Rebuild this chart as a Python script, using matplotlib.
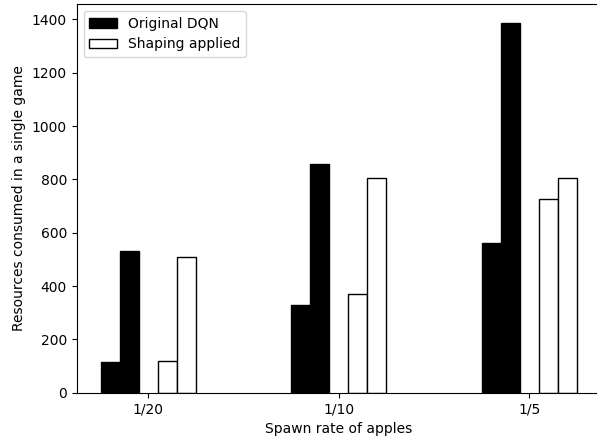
import numpy as np
import matplotlib
matplotlib.use('Agg')
import matplotlib.pyplot as plt

rates = ['1/20', '1/10', '1/5']
# two runs per method
dqn_a = [116, 327, 560]
dqn_b = [532, 857, 1388]
shaped_a = [120, 370, 725]
shaped_b = [508, 804, 804]

ind = np.arange(len(rates))
w = 0.1

fig = plt.figure(figsize=(5.97, 4.36), dpi=100)
# the original was cropped on the right, so the axes run past the edge
ax = fig.add_axes([0.1285, 0.0993, 0.878, 0.8915])

ax.bar(ind - 2*w, dqn_a, w, color='black', edgecolor='black', label='Original DQN')
ax.bar(ind - w, dqn_b, w, color='black', edgecolor='black')
ax.bar(ind + w, shaped_a, w, color='white', edgecolor='black', label='Shaping applied')
ax.bar(ind + 2*w, shaped_b, w, color='white', edgecolor='black')

ax.set_xticks(ind)
ax.set_xticklabels(rates)
ax.set_xlabel('Spawn rate of apples')
ax.set_ylabel('Resources consumed in a single game')
ax.legend(loc='upper left')
ax.spines['right'].set_visible(False)

plt.savefig('out.png', dpi=100)
